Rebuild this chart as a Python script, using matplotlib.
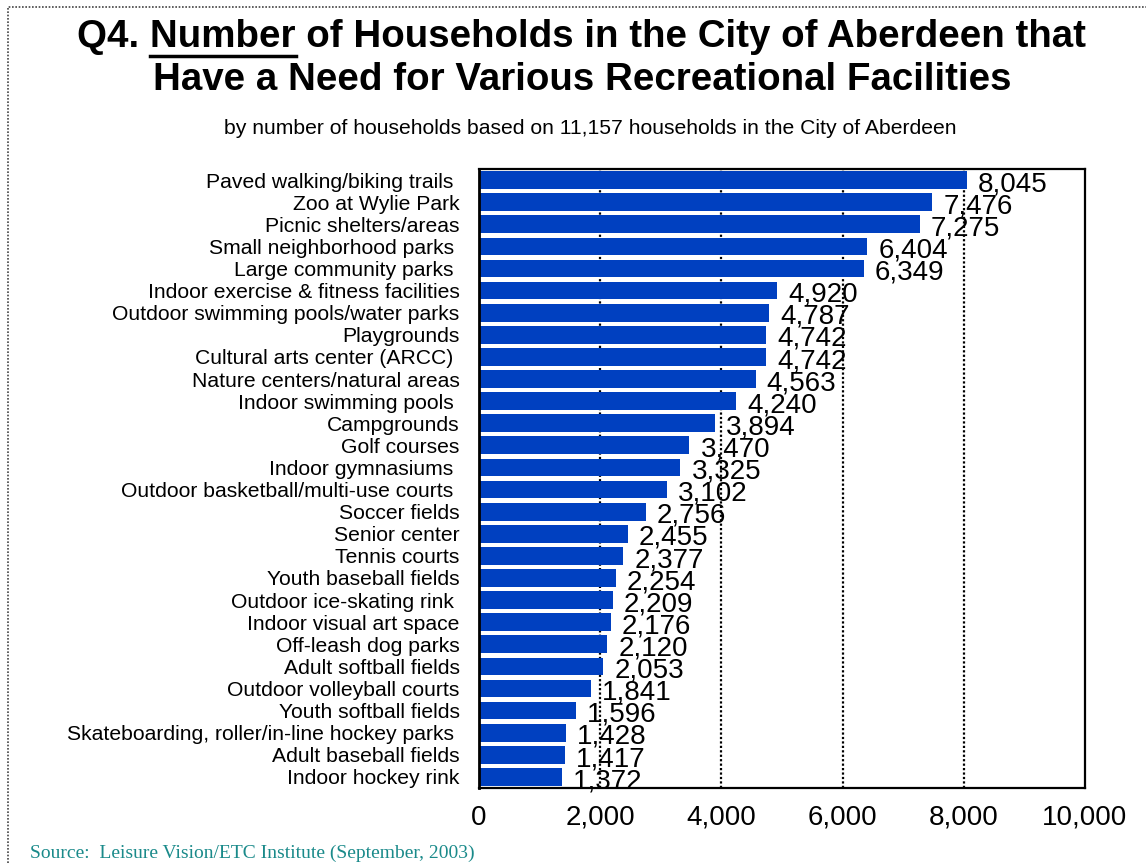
import matplotlib.pyplot as plt
from matplotlib.patches import Rectangle
from matplotlib.lines import Line2D

categories = [
    "Paved walking/biking trails ", "Zoo at Wylie Park", "Picnic shelters/areas",
    "Small neighborhood parks ", "Large community parks ",
    "Indoor exercise & fitness facilities", "Outdoor swimming pools/water parks",
    "Playgrounds", "Cultural arts center (ARCC) ", "Nature centers/natural areas",
    "Indoor swimming pools ", "Campgrounds", "Golf courses", "Indoor gymnasiums ",
    "Outdoor basketball/multi-use courts ", "Soccer fields", "Senior center",
    "Tennis courts", "Youth baseball fields", "Outdoor ice-skating rink ",
    "Indoor visual art space", "Off-leash dog parks", "Adult softball fields",
    "Outdoor volleyball courts", "Youth softball fields",
    "Skateboarding, roller/in-line hockey parks ", "Adult baseball fields",
    "Indoor hockey rink",
]
households = [8045, 7476, 7275, 6404, 6349, 4920, 4787, 4742, 4742, 4563,
              4240, 3894, 3470, 3325, 3102, 2756, 2455, 2377, 2254, 2209,
              2176, 2120, 2053, 1841, 1596, 1428, 1417, 1372]
xticks = [0, 2000, 4000, 6000, 8000, 10000]

plt.rcParams['font.family'] = ['Liberation Sans', 'DejaVu Sans']

fig = plt.figure(figsize=(11.46, 8.64), dpi=100)
ax = fig.add_axes([479 / 1146, 76 / 864, 606 / 1146, 619 / 864])

ypos = list(range(len(categories)))
ax.barh(ypos, households, height=0.8, color='#0040C0', zorder=2)
ax.set_ylim(len(categories) - 0.5, -0.5)
ax.set_xlim(0, 10000)

for y, v in zip(ypos, households):
    ax.annotate(f"{v:,}", (v, y), xytext=(8, -3), textcoords='offset points',
                va='center', ha='left', fontsize=20, zorder=3)

ax.set_yticks(ypos)
ax.set_yticklabels(categories, fontsize=15.2)
ax.set_xticks(xticks)
ax.set_xticklabels([f"{t:,}" for t in xticks], fontsize=20)
ax.tick_params(axis='both', length=0)
ax.tick_params(axis='y', pad=14)
ax.tick_params(axis='x', pad=12)

for t in xticks[1:-1]:
    ax.axvline(t, color='black', lw=1.6, ls=(0, (1, 1)), zorder=1)

for side in ['top', 'right', 'bottom']:
    ax.spines[side].set_linestyle((0, (1, 1)))
    ax.spines[side].set_linewidth(1.6)
ax.spines['left'].set_linewidth(2)

# outer dotted frame (only left and top edges visible)
fig.patches.append(Rectangle((8 / 1146, -0.05), 1.2, (864 - 7) / 864 + 0.05,
                             transform=fig.transFigure, fill=False,
                             edgecolor='#444444', lw=1.2, ls=(0, (1, 1))))

# title with underlined "Number"
tsize = 27.7
line1 = "Q4. Number of Households in the City of Aberdeen that"
line1_y = 1 - 37 / 864
fig.text(0.5075, line1_y, line1, ha='center', va='center', fontsize=tsize, fontweight='bold')
fig.text(0.5085, 1 - 80 / 864, "Have a Need for Various Recreational Facilities",
         ha='center', va='center', fontsize=tsize, fontweight='bold')

r = fig.canvas.get_renderer()
full = fig.text(0, 0, line1, fontsize=tsize, fontweight='bold')
pre = fig.text(0, 0, "Q4. ", fontsize=tsize, fontweight='bold')
word = fig.text(0, 0, "Q4. Number", fontsize=tsize, fontweight='bold')
w_full = full.get_window_extent(r).width
w_pre = pre.get_window_extent(r).width
w_word = word.get_window_extent(r).width
for t in (full, pre, word):
    t.remove()
x0 = 0.5075 * 1146 - w_full / 2
ul_y = line1_y - 19 / 864
fig.add_artist(Line2D([(x0 + w_pre) / 1146, (x0 + w_word) / 1146], [ul_y, ul_y],
                      transform=fig.transFigure, color='black', lw=2.5))

fig.text(0.515, 1 - 128 / 864,
         "by number of households based on 11,157 households in the City of Aberdeen",
         ha='center', va='center', fontsize=15.2)

fig.text(30 / 1146, 1 - 853 / 864, "Source:  Leisure Vision/ETC Institute (September, 2003)",
         ha='left', va='center', fontsize=14, color='#1A8A8A', family='Liberation Serif')

fig.savefig('out.png', dpi=100)
